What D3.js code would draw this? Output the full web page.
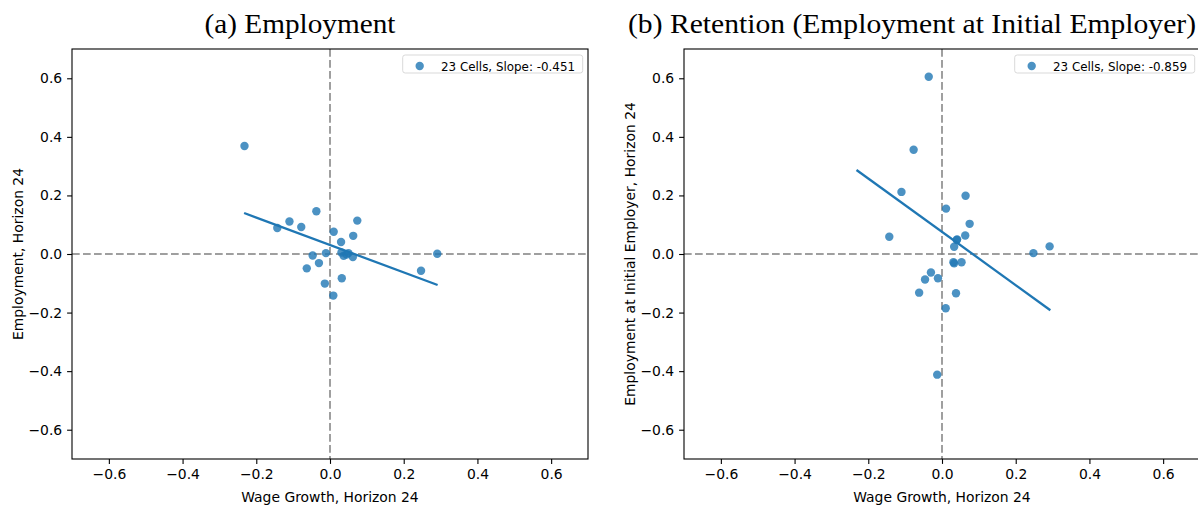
<!DOCTYPE html>
<html>
<head>
<meta charset="utf-8">
<script src="https://cdn.jsdelivr.net/npm/d3@7"></script>
<style>
  body { margin: 0; background: #fff; }
  svg { display: block; }
</style>
</head>
<body>
<div class="chart"></div>
<script>
// -- data (wage growth x, outcome y) --
var empX = [-0.232, -0.143, -0.110, -0.078, -0.037, 0.010, 0.074, 0.063, 0.030, -0.011, -0.047, -0.030,
            -0.063, 0.031, 0.037, 0.050, 0.062, -0.014, 0.032, 0.009, 0.247, 0.291, 0.045];
var empY = [0.369, 0.089, 0.111, 0.092, 0.146, 0.076, 0.114, 0.062, 0.041, 0.003, -0.005, -0.031,
            -0.049, 0.005, -0.006, 0.003, -0.010, -0.101, -0.083, -0.142, -0.057, 0.001, -0.002];

var retX = [-0.036, -0.077, -0.110, -0.143, 0.064, 0.011, 0.075, 0.063, 0.041, 0.033, 0.248, 0.292,
            0.031, 0.033, 0.053, -0.030, -0.046, -0.011, -0.062, 0.038, 0.010, -0.013, 0.040];
var retY = [0.605, 0.356, 0.212, 0.059, 0.199, 0.155, 0.103, 0.063, 0.050, 0.025, 0.003, 0.026,
            -0.028, -0.032, -0.028, -0.063, -0.087, -0.083, -0.132, -0.134, -0.185, -0.412, 0.048];

// fitted line end points
var empFitX = [-0.233, 0.292];
var empFitY = [0.140, -0.106];
var retFitX = [-0.232, 0.294];
var retFitY = [0.287, -0.192];

var titles = ["(a) Employment", "(b) Retention (Employment at Initial Employer)"];
var yLabels = ["Employment, Horizon 24", "Employment at Initial Employer, Horizon 24"];
var xLabel = "Wage Growth, Horizon 24";
var legendLabels = ["23 Cells, Slope: -0.451", "23 Cells, Slope: -0.859"];
var tickValues = [-0.6, -0.4, -0.2, 0.0, 0.2, 0.4, 0.6];

var width = 1198, height = 506;
var svg = d3.select("div.chart").append("svg")
    .attr("width", width)
    .attr("height", height);

var fmt = function(d) { return d3.format(".1f")(d).replace("-", "\u2212"); };

function drawPanel(left, xs, ys, fitX, fitY, title, titleLen, yLabel, legendText) {
  var w = 516, h = 410, top = 49;
  var g = svg.append("g").attr("transform", "translate(" + left + "," + top + ")");

  var x = d3.scaleLinear().domain([-0.7, 0.7]).range([0, w]);
  var y = d3.scaleLinear().domain([-0.7, 0.7]).range([h, 0]);

  var pts = xs.map(function(v, i) { return {x: v, y: ys[i]}; });
  var fit = fitX.map(function(v, i) { return {x: v, y: fitY[i]}; });

  // zero reference lines
  g.append("line")
      .attr("x1", x(0)).attr("x2", x(0))
      .attr("y1", 0).attr("y2", h)
      .attr("stroke", "#808080")
      .attr("stroke-width", 1.5)
      .attr("stroke-dasharray", "7.7,3.3");
  g.append("line")
      .attr("x1", 0).attr("x2", w)
      .attr("y1", y(0)).attr("y2", y(0))
      .attr("stroke", "#808080")
      .attr("stroke-width", 1.5)
      .attr("stroke-dasharray", "7.7,3.3");

  g.selectAll(".dot")
      .data(pts)
    .enter().append("circle")
      .attr("class", "dot")
      .attr("fill", "#1f77b4")
      .attr("fill-opacity", 0.8)
      .attr("r", 4.2)
      .attr("cx", function(d) { return x(d.x); })
      .attr("cy", function(d) { return y(d.y); });

  var line = d3.line()
      .x(function(d) { return x(d.x); })
      .y(function(d) { return y(d.y); });

  g.append("path")
      .datum(fit)
      .attr("fill", "none")
      .attr("stroke", "#1f77b4")
      .attr("stroke-width", 2.3)
      .attr("d", line);

  // axes
  var xAxis = g.append("g")
      .attr("transform", "translate(0," + h + ")")
      .call(d3.axisBottom(x).tickValues(tickValues).tickFormat(fmt).tickSize(4.9).tickPadding(4.9));
  var yAxis = g.append("g")
      .call(d3.axisLeft(y).tickValues(tickValues).tickFormat(fmt).tickSize(4.9).tickPadding(4.9));
  [xAxis, yAxis].forEach(function(a) {
    a.select(".domain").remove();
    a.selectAll("text")
        .attr("fill", "#000")
        .style("font-family", "DejaVu Sans")
        .style("font-size", "13.9px");
    a.selectAll("line").attr("stroke", "#000").attr("stroke-width", 1.1);
  });

  g.append("rect")
      .attr("width", w).attr("height", h)
      .attr("fill", "none")
      .attr("stroke", "#000")
      .attr("stroke-width", 1.1);

  g.append("text")
      .attr("x", w / 2)
      .attr("y", h + 43)
      .attr("text-anchor", "middle")
      .style("font-family", "DejaVu Sans")
      .style("font-size", "13.9px")
      .text(xLabel);

  g.append("text")
      .attr("transform", "translate(-49," + (h / 2) + ") rotate(-90)")
      .attr("text-anchor", "middle")
      .style("font-family", "DejaVu Sans")
      .style("font-size", "13.9px")
      .text(yLabel);

  g.append("text")
      .attr("x", w / 2 - 30)
      .attr("y", -16)
      .attr("text-anchor", "middle")
      .attr("textLength", titleLen)
      .attr("lengthAdjust", "spacingAndGlyphs")
      .style("font-family", "Liberation Serif")
      .style("font-size", "28px")
      .text(title);

  // legend
  var lg = g.append("g").attr("transform", "translate(" + (w - 5.3) + ",6)");
  var lt = lg.append("text")
      .attr("x", -7.7)
      .attr("y", 15.5)
      .attr("text-anchor", "end")
      .style("font-family", "DejaVu Sans")
      .style("font-size", "11.9px")
      .text(legendText);
  var tw = lt.node().getComputedTextLength();
  lg.insert("rect", "text")
      .attr("x", -tw - 46)
      .attr("y", 0)
      .attr("width", tw + 46)
      .attr("height", 18)
      .attr("rx", 2.5)
      .attr("fill", "#fff")
      .attr("fill-opacity", 0.8)
      .attr("stroke", "#d9d9d9")
      .attr("stroke-width", 1);
  lg.append("circle")
      .attr("cx", -tw - 29)
      .attr("cy", 11)
      .attr("r", 4.2)
      .attr("fill", "#1f77b4")
      .attr("fill-opacity", 0.8);
}

drawPanel(72, empX, empY, empFitX, empFitY, titles[0], 191, yLabels[0], legendLabels[0]);
drawPanel(684, retX, retY, retFitX, retFitY, titles[1], 568, yLabels[1], legendLabels[1]);
</script>
</body>
</html>
